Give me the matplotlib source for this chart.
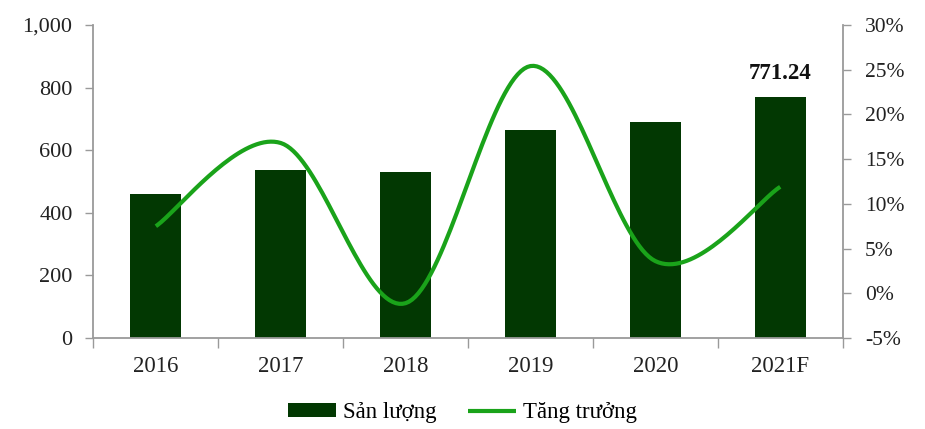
import numpy as np
import matplotlib.pyplot as plt
from matplotlib.ticker import FuncFormatter, FixedLocator

years = ["2016", "2017", "2018", "2019", "2020", "2021F"]
san_luong = [460, 537, 530, 665, 690, 771.24]
tang_truong = [7.5, 16.8, -1.1, 25.4, 3.6, 11.9]

BAR = "#023802"
LINE = "#1aa31a"
SPINE = "#9a9a9a"
TXT = "#222222"


def smooth(x, y, n=40):
    # excel-like smoothed line (catmull-rom as cubic bezier)
    x = np.asarray(x, float); y = np.asarray(y, float)
    px = np.concatenate([[x[0]], x, [x[-1]]])
    py = np.concatenate([[y[0]], y, [y[-1]]])
    xs, ys = [], []
    t = np.linspace(0, 1, n)
    for i in range(1, len(px) - 2):
        p0 = np.array([px[i], py[i]]); p3 = np.array([px[i + 1], py[i + 1]])
        p1 = p0 + (np.array([px[i + 1], py[i + 1]]) - np.array([px[i - 1], py[i - 1]])) / 6
        p2 = p3 - (np.array([px[i + 2], py[i + 2]]) - np.array([px[i], py[i]])) / 6
        b = ((1 - t) ** 3)[:, None] * p0 + (3 * (1 - t) ** 2 * t)[:, None] * p1 \
            + (3 * (1 - t) * t ** 2)[:, None] * p2 + (t ** 3)[:, None] * p3
        xs.extend(b[:, 0]); ys.extend(b[:, 1])
    return np.array(xs), np.array(ys)


plt.rcParams["font.family"] = ["Liberation Serif", "DejaVu Serif"]

fig = plt.figure(figsize=(9.25, 4.29), dpi=100)
ax = fig.add_axes([0.101, 0.212, 0.810, 0.730])
x = np.arange(len(years))
ax.bar(x, san_luong, width=0.41, color=BAR, label="Sản lượng", zorder=2)
ax.set_ylim(0, 1000)
ax.set_xlim(-0.5, len(years) - 0.5)
ax.set_yticks(range(0, 1001, 200))
ax.yaxis.set_major_formatter(FuncFormatter(lambda v, p: f"{int(v):,}"))
ax.xaxis.set_major_locator(FixedLocator(np.arange(-0.5, len(years), 1)))
ax.xaxis.set_minor_locator(FixedLocator(x))
ax.set_xticklabels([], minor=False)
ax.set_xticklabels(years, minor=True)
ax.tick_params(axis="x", which="major", length=7, color=SPINE, width=1)
ax.tick_params(axis="x", which="minor", length=0, pad=13, labelsize=16.5, labelcolor=TXT)
ax.tick_params(axis="y", length=6, color=SPINE, width=1, pad=9, labelsize=16, labelcolor=TXT)
for s in ["top", "right"]:
    ax.spines[s].set_visible(False)
for s in ["left", "bottom"]:
    ax.spines[s].set_color(SPINE)
    ax.spines[s].set_linewidth(1.3)

ax.text(x[-1], san_luong[-1] + 40, f"{san_luong[-1]:.2f}", ha="center", va="bottom",
        fontsize=16.5, fontweight="bold", color="#111111")

ax2 = ax.twinx()
sx, sy = smooth(x, tang_truong)
ax2.plot(sx, sy, color=LINE, lw=3, solid_capstyle="butt", label="Tăng trưởng")
ax2.set_ylim(-5, 30)
ax2.set_yticks(range(-5, 31, 5))
ax2.yaxis.set_major_formatter(FuncFormatter(lambda v, p: f"{int(v)}%"))
ax2.tick_params(axis="y", length=6, color=SPINE, width=1, pad=10, labelsize=15.5, labelcolor=TXT)
for s in ["top", "left", "bottom"]:
    ax2.spines[s].set_visible(False)
ax2.spines["right"].set_color(SPINE)
ax2.spines["right"].set_linewidth(1.3)

h1, l1 = ax.get_legend_handles_labels()
h2, l2 = ax2.get_legend_handles_labels()
fig.legend(h1 + h2, l1 + l2, loc="lower center", bbox_to_anchor=(0.5, -0.035), ncol=2,
           frameon=False, fontsize=16.5, handlelength=2.1, handleheight=0.55,
           columnspacing=1.4, handletextpad=0.3)

fig.savefig("out.png", dpi=100)
